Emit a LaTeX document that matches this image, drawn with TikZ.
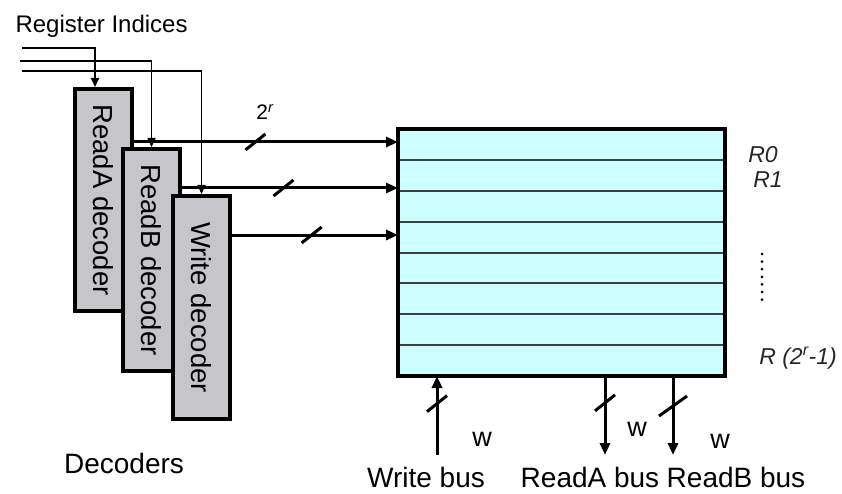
\documentclass[tikz,border=0pt]{standalone}
\usepackage{fontspec}
\usepackage{graphicx}
\setmainfont{Liberation Sans}
\usetikzlibrary{arrows.meta,calc}

\definecolor{decgray}{RGB}{198,197,202}
\definecolor{regcyan}{RGB}{204,255,255}

\tikzset{
  decoder/.style={draw, line width=4pt, fill=decgray, minimum width=57pt,
    minimum height=222pt, inner sep=0pt, font=\fontsize{27.5}{29}\selectfont},
  regfile/.style={fill=regcyan, outer sep=0pt, minimum width=327pt, minimum height=247pt},
  regborder/.style={line width=4.5pt},
  rowline/.style={line width=2pt, black!75},
  bus/.style={line width=3pt, -{Triangle[length=12pt,width=10pt]}},
  idx/.style={line width=1.6pt, -{Triangle[length=9pt,width=8pt]}},
  slash/.style={line width=3pt},
  lbl/.style={font=\fontsize{28}{30}\selectfont},
  wlbl/.style={font=\fontsize{27}{29}\selectfont},
  reglbl/.style={font=\fontsize{23}{25}\selectfont\itshape, black!85},
}

\begin{document}
\begin{tikzpicture}[x=1pt, y=-1pt]
\useasboundingbox (0,0) rectangle (842,494);

% Decoders (drawn back to front)
\node[decoder] (decA) at (103.5,200) {\rotatebox{-90}{ReadA decoder}};
\node[decoder] (decB) at (151.5,260) {\rotatebox{-90}{ReadB decoder}};
\node[decoder, minimum height=223pt] (decW) at (201.5,307.5) {\rotatebox{-90}{Write decoder}};

% Register file with its rows
\node[regfile] (regs) at (561.5,252.5) {};
\foreach \i in {1,...,7}
  \draw[rowline] ($(regs.north west)!\i/8!(regs.south west)$) -- ($(regs.north east)!\i/8!(regs.south east)$);
\draw[regborder] (regs.north west) rectangle (regs.south east);

% Register indices into the decoders
\node[anchor=base west, font=\fontsize{24}{26}\selectfont] (indices) at (12,33) {Register Indices};
\coordinate (idxA) at (22,48);
\coordinate (idxB) at (20,61);
\coordinate (idxW) at (22,71);
\draw[idx] (idxA) -| ([xshift=-8.5pt]decA.north);
\draw[idx] (idxB) -| (decB.north);
\draw[idx] (idxW) -| (decW.north);

% Select lines into the register file
\coordinate (selA) at (398,142);
\coordinate (selB) at (398,188);
\coordinate (selW) at (398,235);
\draw[bus] (decA.east |- selA) -- coordinate[pos=0.46] (cutA) (selA);
\draw[bus] (decB.east |- selB) -- coordinate[pos=0.47] (cutB) (selB);
\draw[bus] (decW.east |- selW) -- coordinate[pos=0.48] (cutW) (selW);
\node[font=\fontsize{21}{23}\selectfont] (width) at (265,112) {2\textsuperscript{\itshape r}};

% Buses below
\coordinate (wrbus) at (437,455);
\coordinate (rabus) at (605,455);
\coordinate (rbbus) at (673,455);
\draw[bus] (wrbus) -- coordinate[pos=0.65] (cutWr) (wrbus |- regs.south);
\draw[bus] (rabus |- regs.south) -- coordinate[pos=0.34] (cutRa) (rabus);
\draw[bus] (rbbus |- regs.south) -- coordinate[pos=0.38] (cutRb) (rbbus);

% bus width marks
\foreach \c in {cutA,cutB,cutW,cutWr,cutRa}
  \draw[slash] ($(\c)+(-10,8)$) -- ($(\c)+(10,-8)$);
\draw[slash] ($(cutRb)+(-14,10)$) -- ($(cutRb)+(14,-10)$);

\node[wlbl, anchor=base] (wWr) at (482,446) {w};
\node[wlbl, anchor=base] (wRa) at (637,436) {w};
\node[wlbl, anchor=base] (wRb) at (720,448) {w};

% Register names
\node[reglbl] (r0) at (763,155) {R0};
\node[reglbl] (r1) at (768,180) {R1};
\foreach \k in {0,...,6}
  \fill (762,{254+7.6*\k}) circle (1.5);
\node[reglbl] (rlast) at (798,358) {R (2\textsuperscript{r}-1)};

% Captions
\node[lbl, anchor=base] (decs) at (124,473) {Decoders};
\node[lbl, anchor=base] (wrlbl) at (426,487) {Write bus};
\node[lbl, anchor=base] (ralbl) at (590,487) {ReadA bus};
\node[lbl, anchor=base] (rblbl) at (736,487) {ReadB bus};
\end{tikzpicture}
\end{document}
